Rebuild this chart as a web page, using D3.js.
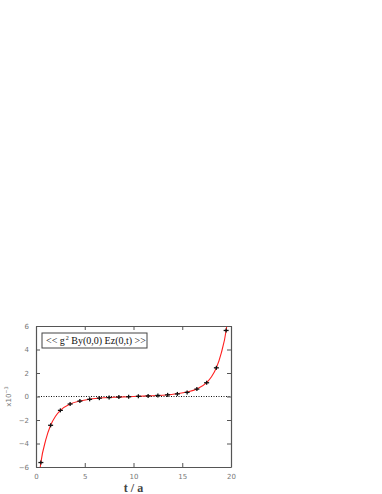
<!DOCTYPE html>
<html>
<head>
<meta charset="utf-8">
<script src="https://cdn.jsdelivr.net/npm/d3@7"></script>
<style>
  html, body { margin: 0; padding: 0; background: #fff; }
  #viz { width: 382px; height: 494px; }
</style>
</head>
<body>
<div id="viz"></div>
<script>
// lattice points (t/a) and measured correlator, in units of 1e-3
var tVals = [0.5, 1.5, 2.5, 3.5, 4.5, 5.5, 6.5, 7.5, 8.5, 9.5,
             10.5, 11.5, 12.5, 13.5, 14.5, 15.5, 16.5, 17.5, 18.5, 19.5];
var yVals = [-5.62, -2.45, -1.18, -0.64, -0.39, -0.24, -0.14, -0.09, -0.05, -0.02,
             0.02, 0.05, 0.09, 0.14, 0.22, 0.35, 0.63, 1.17, 2.44, 5.62];
var yErr  = [0.12, 0.1, 0.06, 0.05, 0.04, 0.03, 0.03, 0.03, 0.03, 0.03,
             0.03, 0.03, 0.03, 0.03, 0.03, 0.04, 0.05, 0.06, 0.1, 0.12];

// red fit curve
var fitT = [0.38, 0.5, 1.0, 1.5, 2.0, 2.5, 3.5, 4.5, 5.5, 7, 8.5, 10,
            11.5, 13, 14.5, 15.5, 16.5, 17.5, 18.0, 18.5, 19.0, 19.5, 19.62];
var fitY = [-6.4, -5.62, -3.7, -2.45, -1.68, -1.18, -0.64, -0.38, -0.23, -0.11, -0.05, 0,
            0.05, 0.11, 0.23, 0.38, 0.64, 1.18, 1.68, 2.45, 3.7, 5.62, 6.4];

var xTicks = [0, 5, 10, 15, 20];
var yTicks = [-6, -4, -2, 0, 2, 4, 6];

var margin, width, height;

function generate() {
    margin = {top: 326, left: 36, right: 151, bottom: 27};
    width = 382 - margin.left - margin.right;
    height = 494 - margin.top - margin.bottom;

    var svg = d3.select("#viz").append("svg")
        .attr("width", 382)
        .attr("height", 494);

    var g = svg.append("g")
        .attr("transform", "translate(" + margin.left + "," + margin.top + ")");

    var x = d3.scaleLinear().domain([0, 20]).range([0, width]);
    var y = d3.scaleLinear().domain([-6, 6]).range([height, 0]);

    g.append("clipPath").attr("id", "clip")
      .append("rect").attr("width", width).attr("height", height);

    // zero line
    g.append("line")
        .attr("x1", 0).attr("x2", width)
        .attr("y1", y(0)).attr("y2", y(0))
        .attr("stroke", "#111")
        .attr("stroke-width", 1)
        .attr("stroke-dasharray", "1,1.5");

    // fit curve
    var line = d3.line()
        .x(function(d, i) { return x(fitT[i]); })
        .y(function(d) { return y(d); })
        .curve(d3.curveMonotoneX);
    g.append("path")
        .datum(fitY)
        .attr("clip-path", "url(#clip)")
        .attr("fill", "none")
        .attr("stroke", "#ff2020")
        .attr("stroke-width", 1.1)
        .attr("d", line);

    // data points (crosses with error bars)
    var pts = g.selectAll(".pt")
        .data(yVals)
        .enter().append("g")
          .attr("class", "pt")
          .attr("transform", function(d, i) { return "translate(" + x(tVals[i]) + "," + y(d) + ")"; });
    pts.append("line")
        .attr("x1", -2.5).attr("x2", 2.5).attr("y1", 0).attr("y2", 0)
        .attr("stroke", "#111").attr("stroke-width", 1.3);
    pts.append("line")
        .attr("x1", 0).attr("x2", 0)
        .attr("y1", function(d, i) { return Math.min(-2, y(d + yErr[i]) - y(d)); })
        .attr("y2", function(d, i) { return Math.max(2, y(d - yErr[i]) - y(d)); })
        .attr("stroke", "#111").attr("stroke-width", 1.3);

    // axes: ticks inside on all four sides
    var axisColor = "#555";
    var labelColor = "#777";
    g.append("g")
        .attr("transform", "translate(0," + height + ")")
        .call(d3.axisBottom(x).tickValues(xTicks).tickSizeInner(-4).tickSizeOuter(0).tickPadding(7));
    g.append("g")
        .call(d3.axisTop(x).tickValues(xTicks).tickSizeInner(-4).tickSizeOuter(0).tickFormat(""));
    g.append("g")
        .call(d3.axisLeft(y).tickValues(yTicks).tickSizeInner(-4).tickSizeOuter(0).tickPadding(7)
            .tickFormat(function(d) { return d < 0 ? "\u2212" + Math.abs(d) : d; }));
    g.append("g")
        .attr("transform", "translate(" + width + ",0)")
        .call(d3.axisRight(y).tickValues(yTicks).tickSizeInner(-4).tickSizeOuter(0).tickFormat(""));

    g.selectAll(".domain").attr("stroke", axisColor).attr("stroke-width", 1.2);
    g.selectAll(".tick line").attr("stroke", axisColor).attr("stroke-width", 1);
    g.selectAll(".tick text")
        .attr("fill", labelColor)
        .style("font-family", "'DejaVu Sans', sans-serif")
        .style("font-size", "7px");

    // axis titles
    svg.append("text")
        .attr("x", margin.left + width / 2)
        .attr("y", 492)
        .attr("text-anchor", "middle")
        .style("font-family", "'Liberation Serif', 'DejaVu Serif', serif")
        .style("font-size", "12px")
        .style("font-weight", "bold")
        .attr("fill", "#444")
        .text("t / a");

    var yl = svg.append("text")
        .attr("transform", "translate(11," + (margin.top + y(0)) + ") rotate(-90)")
        .attr("text-anchor", "middle")
        .style("font-family", "'DejaVu Sans', sans-serif")
        .style("font-size", "7px")
        .attr("fill", labelColor);
    yl.append("tspan").text("x10");
    yl.append("tspan").attr("dy", -3).style("font-size", "5px").text("\u22123");

    // legend box
    var lg = g.append("g").attr("transform", "translate(6,7)");
    lg.append("rect")
        .attr("width", 105).attr("height", 15)
        .attr("fill", "#fff")
        .attr("stroke", "#444").attr("stroke-width", 1);
    var lt = lg.append("text")
        .attr("x", 4).attr("y", 11)
        .style("font-family", "'Liberation Serif', serif")
        .style("font-size", "10px")
        .attr("fill", "#111");
    lt.append("tspan").text("<< g");
    lt.append("tspan").attr("dx", 1).attr("dy", -4).style("font-size", "6px").text("2");
    lt.append("tspan").attr("dy", 4).text(" By(0,0) Ez(0,t) >>");
}

generate();
</script>
</body>
</html>
